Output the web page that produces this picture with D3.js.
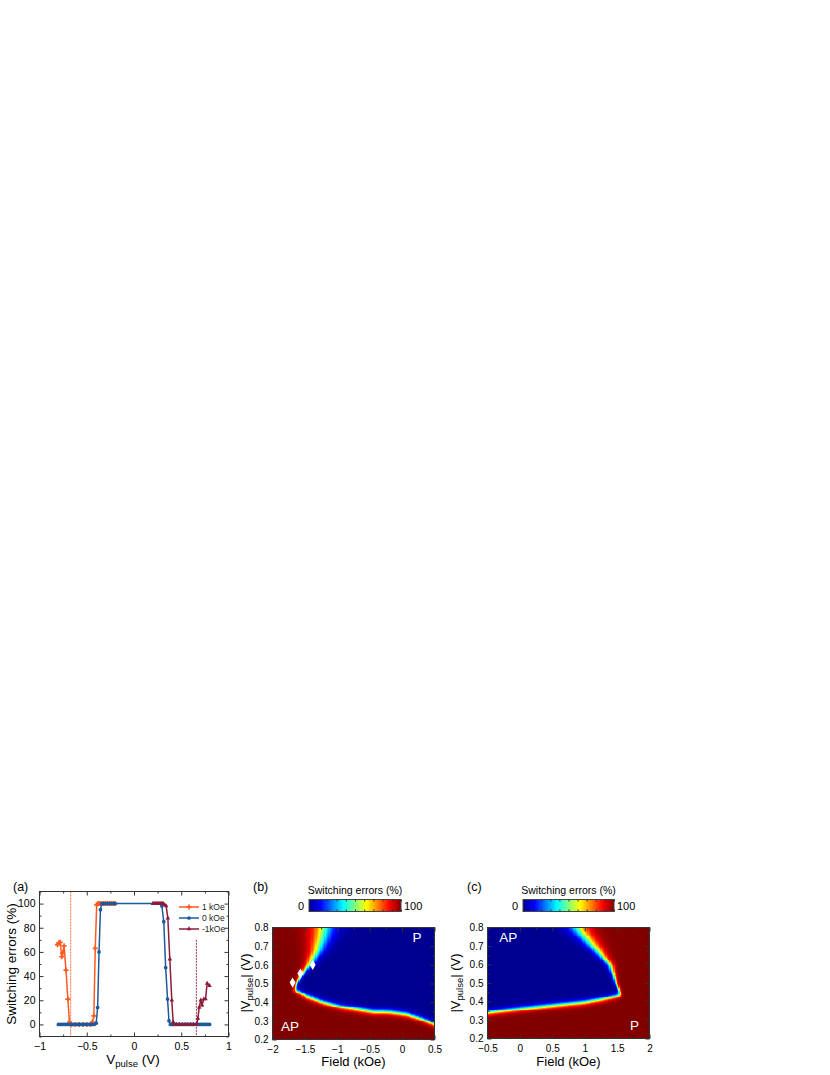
<!DOCTYPE html>
<html>
<head>
<meta charset="utf-8">
<script src="https://cdn.jsdelivr.net/npm/d3@7"></script>
<style>
  body { margin: 0; background: #fff; }
  svg { display: block; font-family: "Liberation Sans", Arial, sans-serif; }
</style>
</head>
<body>
<svg id="chart" width="830" height="1075"></svg>
<script>
// ---- panel (a) data: switching errors vs pulse voltage ----
const v1k = [-0.81,-0.795,-0.78,-0.765,-0.755,-0.74,-0.72,-0.70,-0.683,-0.66,-0.62,-0.58,-0.54,-0.50,-0.46,-0.44,-0.425,-0.41,-0.395,-0.38,-0.36,-0.34,-0.32,-0.30,-0.28,-0.26,-0.24,-0.22,-0.20];
const e1k = [66,67.5,68,56,59,65,45,21,2,0,0,0,0,0,0,2,7,63,99,100,100,100,100,100,100,100,100,100,100];

const v0k = [-0.80,-0.78,-0.76,-0.74,-0.72,-0.70,-0.68,-0.66,-0.64,-0.62,-0.60,-0.58,-0.56,-0.54,-0.52,-0.50,-0.48,-0.46,-0.44,-0.42,-0.40,-0.385,-0.37,-0.355,-0.34,-0.32,-0.30,-0.28,-0.26,-0.24,-0.22,-0.20,0.28,0.295,0.315,0.335,0.355,0.37,0.385,0.40,0.42,0.44,0.46,0.48,0.50,0.52,0.54,0.56,0.58,0.60,0.62,0.64,0.66,0.68,0.70,0.72,0.74,0.76,0.78,0.80];
const e0k = [0,0,0,0,0,0,0,0,0,0,0,0,0,0,0,0,0,0,0,0,1,14,60,95,100,100,100,100,100,100,100,100,100,98,85,47,21,3,0,0,0,0,0,0,0,0,0,0,0,0,0,0,0,0,0,0,0,0,0,0];

const vm1k = [0.20,0.21,0.22,0.23,0.24,0.25,0.26,0.27,0.28,0.29,0.30,0.31,0.325,0.34,0.358,0.379,0.40,0.414,0.425,0.45,0.48,0.51,0.54,0.57,0.60,0.63,0.665,0.676,0.69,0.707,0.72,0.739,0.757,0.774,0.799];
const em1k = [100,100,100,100,100,100,100,100,100,100,100,100,99,98,88,54,20,2,0,0,0,0,0,0,0,0,0,5,14,20,16,21,21,34,32];

const seriesNames = ["1 kOe", "0 kOe", "-1kOe"];
const seriesColors = ["#ff5a1e", "#1d5a9c", "#8e1b3a"];
const dashedLines = [{ v: -0.67, top: 110, color: "#ff5a1e" }, { v: 0.66, top: 70, color: "#8e1b3a" }];

// ---- panel (b) phase boundaries ----
const bLowerH = [-1.66,-1.62,-1.47,-1.21,-0.96,-0.70,-0.44,-0.30,-0.18,0.07,0.28,0.50];
const bLowerV = [0.470,0.462,0.434,0.402,0.379,0.366,0.352,0.352,0.350,0.339,0.316,0.286];
const bLeftV = [0.46,0.50,0.545,0.60,0.67,0.74,0.80];
const bLeftH = [-1.67,-1.63,-1.56,-1.44,-1.32,-1.25,-1.21];
const bLeftW = [0.012,0.015,0.02,0.035,0.06,0.085,0.10];
const bMarkers = [[-1.69,0.505],[-1.57,0.553],[-1.38,0.60]];

// ---- panel (c) phase boundaries ----
const cLowerH = [-0.5,-0.04,0.47,0.99,1.24,1.50,1.56];
const cLowerV = [0.344,0.362,0.380,0.398,0.413,0.434,0.443];
const cRightV = [0.44,0.488,0.542,0.596,0.65,0.705,0.759,0.80];
const cRightH = [1.56,1.50,1.45,1.40,1.27,1.13,0.99,0.90];
const cRightW = [0.012,0.015,0.02,0.03,0.045,0.065,0.08,0.09];

// jet colour map
const jet = d3.scaleLinear()
  .domain([0, 12.5, 37.5, 62.5, 87.5, 100])
  .range(["#000090", "#0000ff", "#00ffff", "#ffff00", "#ff0000", "#800000"])
  .clamp(true);

const svg = d3.select("#chart");
svg.append("rect").attr("width", 830).attr("height", 1075).attr("fill", "#fff");

function lookup(xs, ys, t) {
  if (t <= xs[0]) return ys[0];
  if (t >= xs[xs.length - 1]) return ys[ys.length - 1];
  let i = d3.bisectRight(xs, t) - 1;
  let f = (t - xs[i]) / (xs[i + 1] - xs[i]);
  return ys[i] + f * (ys[i + 1] - ys[i]);
}
const sig = t => 1 / (1 + Math.exp(-t));

function frameTicks(g, x, y, xMajor, xMinor, yMajor, yMinor, fs) {
  const [x0, x1] = x.range(), [y0, y1] = y.range();
  const tick = (axis, tr, vals, size) =>
    g.append("g").attr("transform", tr)
      .call(axis.tickValues(vals).tickSize(size).tickFormat(""))
      .call(s => s.select(".domain").remove())
      .selectAll("line").attr("stroke", "#333");
  tick(d3.axisBottom(x), `translate(0,${y0})`, xMinor, -2);
  tick(d3.axisTop(x), `translate(0,${y1})`, xMinor, -2);
  tick(d3.axisLeft(y), `translate(${x0},0)`, yMinor, -2);
  tick(d3.axisRight(y), `translate(${x1},0)`, yMinor, -2);
  tick(d3.axisBottom(x), `translate(0,${y0})`, xMajor, -4);
  tick(d3.axisTop(x), `translate(0,${y1})`, xMajor, -4);
  tick(d3.axisLeft(y), `translate(${x0},0)`, yMajor, -4);
  tick(d3.axisRight(y), `translate(${x1},0)`, yMajor, -4);

  g.append("g").attr("transform", `translate(0,${y0})`)
    .call(d3.axisBottom(x).tickValues(xMajor).tickSize(0).tickPadding(6).tickFormat(d3.format("~g")))
    .call(s => s.select(".domain").remove())
    .selectAll("text").attr("font-size", fs).attr("fill", "#000")
    .attr("font-family", "Liberation Sans, Arial, sans-serif");
  g.append("g").attr("transform", `translate(${x0},0)`)
    .call(d3.axisLeft(y).tickValues(yMajor).tickSize(0).tickPadding(4).tickFormat(d3.format("~g")))
    .call(s => s.select(".domain").remove())
    .selectAll("text").attr("font-size", fs).attr("fill", "#000")
    .attr("font-family", "Liberation Sans, Arial, sans-serif");

  g.append("rect").attr("x", x0).attr("y", y1)
    .attr("width", x1 - x0).attr("height", y0 - y1)
    .attr("fill", "none").attr("stroke", "#333").attr("stroke-width", 1);
}

// ---------------- panel (a) ----------------
const xA = d3.scaleLinear([-1, 1], [39.5, 228.5]);
const yA = d3.scaleLinear([-10, 110], [1036.5, 891.5]);
const gA = svg.append("g");

const seriesData = [
  d3.zip(v1k, e1k),
  d3.zip(v0k, e0k),
  d3.zip(vm1k, em1k)
];
const markerShapes = [d3.symbolCross, d3.symbolCircle, d3.symbolTriangle];
const markerSizes = [14, 11, 9];

dashedLines.forEach(d => {
  gA.append("line")
    .attr("x1", xA(d.v)).attr("x2", xA(d.v))
    .attr("y1", yA(d.top)).attr("y2", yA(-10))
    .attr("stroke", d.color).attr("stroke-width", 0.9)
    .attr("stroke-dasharray", "2,1");
});

const line = d3.line().x(d => xA(d[0])).y(d => yA(d[1]));
seriesData.forEach((data, i) => {
  gA.append("path").datum(data)
    .attr("d", line).attr("fill", "none")
    .attr("stroke", seriesColors[i]).attr("stroke-width", 1.5);
  gA.append("g").selectAll("path").data(data).join("path")
    .attr("transform", d => `translate(${xA(d[0])},${yA(d[1])})`)
    .attr("d", d3.symbol(markerShapes[i], markerSizes[i]))
    .attr("fill", seriesColors[i]);
});

frameTicks(gA, xA, yA, [-1, -0.5, 0, 0.5, 1], [-0.75, -0.25, 0.25, 0.75],
  [0, 20, 40, 60, 80, 100], [-10, 10, 30, 50, 70, 90, 110], 10.5);

// legend
const legY = [907, 918, 929];
seriesNames.forEach((name, i) => {
  gA.append("line").attr("x1", 179).attr("x2", 199)
    .attr("y1", legY[i]).attr("y2", legY[i])
    .attr("stroke", seriesColors[i]).attr("stroke-width", 1.5);
  gA.append("path").attr("transform", `translate(189,${legY[i]})`)
    .attr("d", d3.symbol(markerShapes[i], markerSizes[i]))
    .attr("fill", seriesColors[i]);
  gA.append("text").attr("x", 202).attr("y", legY[i] + 3)
    .attr("font-size", 8.5).attr("fill", "#222").text(name);
});

gA.append("text").attr("x", 13).attr("y", 891).attr("font-size", 12.5).text("(a)");
gA.append("text")
  .attr("transform", `translate(16,964) rotate(-90)`)
  .attr("text-anchor", "middle").attr("font-size", 13.5)
  .text("Switching errors (%)");
const xlabA = gA.append("text").attr("x", 133).attr("y", 1064)
  .attr("text-anchor", "middle").attr("font-size", 13.5);
xlabA.append("tspan").text("V");
xlabA.append("tspan").attr("dy", 3).attr("font-size", 9.5).text("pulse");
xlabA.append("tspan").attr("dy", -3).text(" (V)");

// ---------------- heat maps ----------------
function heatPanel(opts) {
  const g = svg.append("g");
  const x = d3.scaleLinear(opts.hDomain, opts.xRange);
  const y = d3.scaleLinear([0.2, 0.8], opts.yRange);
  const dh = 0.02, dv = 0.005;
  const nh = Math.round((opts.hDomain[1] - opts.hDomain[0]) / dh);
  const nv = Math.round(0.6 / dv);
  const cells = [];
  for (let i = 0; i < nh; i++) {
    for (let j = 0; j < nv; j++) {
      const h = opts.hDomain[0] + i * dh, v = 0.2 + j * dv;
      cells.push({ h, v, val: opts.valueAt(h + dh / 2, v + dv / 2) });
    }
  }
  g.append("g").attr("shape-rendering", "crispEdges")
    .selectAll("rect").data(cells).join("rect")
    .attr("x", d => x(d.h))
    .attr("y", d => y(d.v + dv))
    .attr("width", x(dh) - x(0) + 0.6)
    .attr("height", y(0.2) - y(0.2 + dv) + 0.6)
    .attr("fill", d => jet(d.val));

  const hTicks = d3.range(Math.ceil(opts.hDomain[0] * 2), Math.floor(opts.hDomain[1] * 2) + 1).map(k => k / 2);
  const hMinor = hTicks.slice(0, -1).map(t => t + 0.25);
  frameTicks(g, x, y, hTicks, hMinor,
    [0.2, 0.3, 0.4, 0.5, 0.6, 0.7, 0.8], [0.25, 0.35, 0.45, 0.55, 0.65, 0.75], 10);

  // colour bar
  const cb = opts.cbar;
  const gradId = "jet" + opts.tag;
  const grad = svg.append("defs").append("linearGradient").attr("id", gradId);
  jet.domain().forEach(s => grad.append("stop")
    .attr("offset", s + "%").attr("stop-color", jet(s)));
  g.append("rect").attr("x", cb[0]).attr("y", 899.5)
    .attr("width", cb[1] - cb[0]).attr("height", 12)
    .attr("fill", `url(#${gradId})`).attr("stroke", "#444").attr("stroke-width", 1);
  const xc = d3.scaleLinear([0, 100], cb);
  g.append("g").attr("transform", "translate(0,911.5)")
    .call(d3.axisBottom(xc).ticks(10).tickSize(-2).tickFormat(""))
    .call(s => s.select(".domain").remove())
    .selectAll("line").attr("stroke", "#333");
  g.append("g").attr("transform", "translate(0,899.5)")
    .call(d3.axisTop(xc).ticks(10).tickSize(-2).tickFormat(""))
    .call(s => s.select(".domain").remove())
    .selectAll("line").attr("stroke", "#333");
  g.append("text").attr("x", cb[0] - 5).attr("y", 910).attr("text-anchor", "end")
    .attr("font-size", 11).text("0");
  g.append("text").attr("x", cb[1] + 3).attr("y", 910)
    .attr("font-size", 11).text("100");
  g.append("text").attr("x", (cb[0] + cb[1]) / 2).attr("y", 894)
    .attr("text-anchor", "middle").attr("font-size", 10.5).text("Switching errors (%)");

  g.append("text").attr("x", opts.tagX).attr("y", 891).attr("font-size", 12.5).text(`(${opts.tag})`);

  const xl = opts.xRange;
  g.append("text").attr("x", (xl[0] + xl[1]) / 2).attr("y", 1066)
    .attr("text-anchor", "middle").attr("font-size", 13).text("Field (kOe)");
  const ylab = g.append("text")
    .attr("transform", `translate(${opts.yLabX},983) rotate(-90)`)
    .attr("text-anchor", "middle").attr("font-size", 13);
  ylab.append("tspan").text("|V");
  ylab.append("tspan").attr("dy", 3).attr("font-size", 9.5).text("pulse");
  ylab.append("tspan").attr("dy", -3).text("| (V)");

  opts.labels.forEach(l => {
    g.append("text").attr("x", x(l.h)).attr("y", y(l.v))
      .attr("text-anchor", "middle").attr("font-size", 13.5)
      .attr("fill", "#fff").text(l.t);
  });
  return { g, x, y };
}

const pb = heatPanel({
  tag: "b", tagX: 253, yLabX: 250,
  hDomain: [-2, 0.5], xRange: [272.5, 434.5], yRange: [1039.5, 927.5],
  cbar: [309, 401],
  valueAt: (h, v) => {
    const blue = sig((v - lookup(bLowerH, bLowerV, h)) / 0.008) *
      sig((h - lookup(bLeftV, bLeftH, v)) / lookup(bLeftV, bLeftW, v));
    return 100 * (1 - blue);
  },
  labels: [{ h: 0.23, v: 0.72, t: "P" }, { h: -1.73, v: 0.245, t: "AP" }]
});
pb.g.append("g").selectAll("path").data(bMarkers).join("path")
  .attr("transform", d => `translate(${pb.x(d[0])},${pb.y(d[1])})`)
  .attr("d", d3.symbol(d3.symbolDiamond, 30))
  .attr("fill", "#fff");

heatPanel({
  tag: "c", tagX: 467, yLabX: 460,
  hDomain: [-0.5, 2], xRange: [487.5, 649.5], yRange: [1038.5, 927.5],
  cbar: [523, 614],
  valueAt: (h, v) => {
    const blue = sig((v - lookup(cLowerH, cLowerV, h)) / 0.008) *
      sig((lookup(cRightV, cRightH, v) - h) / lookup(cRightV, cRightW, v));
    return 100 * (1 - blue);
  },
  labels: [{ h: -0.18, v: 0.72, t: "AP" }, { h: 1.77, v: 0.245, t: "P" }]
});
</script>
</body>
</html>
